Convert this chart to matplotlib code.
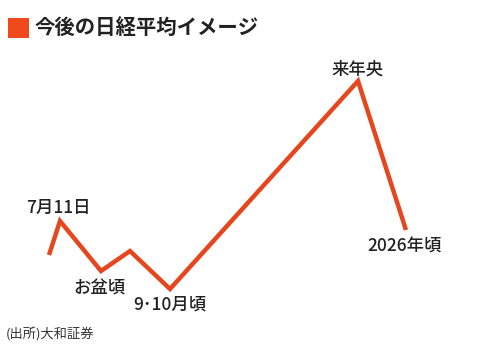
import matplotlib
matplotlib.use("Agg")
import matplotlib.pyplot as plt
import matplotlib.patches as mpatches

plt.rcParams["font.family"] = ["Noto Sans CJK JP", "DejaVu Sans"]

# relative time (arbitrary units) and index level (arbitrary units)
t = [0, 11, 52, 81, 121, 309, 357]
level = [100, 134, 84, 104, 66, 274, 125]

labels = ["7月11日", "お盆頃", "9･10月頃", "来年央", "2026年頃"]
label_idx = [1, 2, 4, 5, 6]
label_dy = [13, -18, -16, 11, -17]
label_dx = [-2, -2, 0, 0, -1]

LINE = "#E5461D"
TEXT = "#222222"

fig = plt.figure(figsize=(4.8, 3.55), dpi=100)
ax = fig.add_axes([0, 0, 1, 1])
ax.set_xlim(-49, 431)
ax.set_ylim(0, 355)
ax.axis("off")

ax.plot(t, level, color=LINE, linewidth=3.2, solid_joinstyle="miter",
        solid_capstyle="butt")

for lab, i, dx, dy in zip(labels, label_idx, label_dx, label_dy):
    ax.text(t[i] + dx, level[i] + dy, lab, ha="center", va="center",
            fontsize=12.5, fontweight="medium", color=TEXT)

# title with orange square
fig.patches.append(mpatches.Rectangle((8 / 480, 1 - 38 / 355), 21 / 480, 20 / 355,
                                      transform=fig.transFigure,
                                      facecolor="#F04A1A", edgecolor="none"))
fig.text(35 / 480, 1 - 28 / 355, "今後の日経平均イメージ", ha="left", va="center",
         fontsize=14.7, fontweight="bold", color=TEXT)

fig.text(6 / 480, 1 - 335 / 355, "(出所)大和証券", ha="left", va="center",
         fontsize=9.5, color="#333333")

fig.savefig("out.png", dpi=100, facecolor="white")
